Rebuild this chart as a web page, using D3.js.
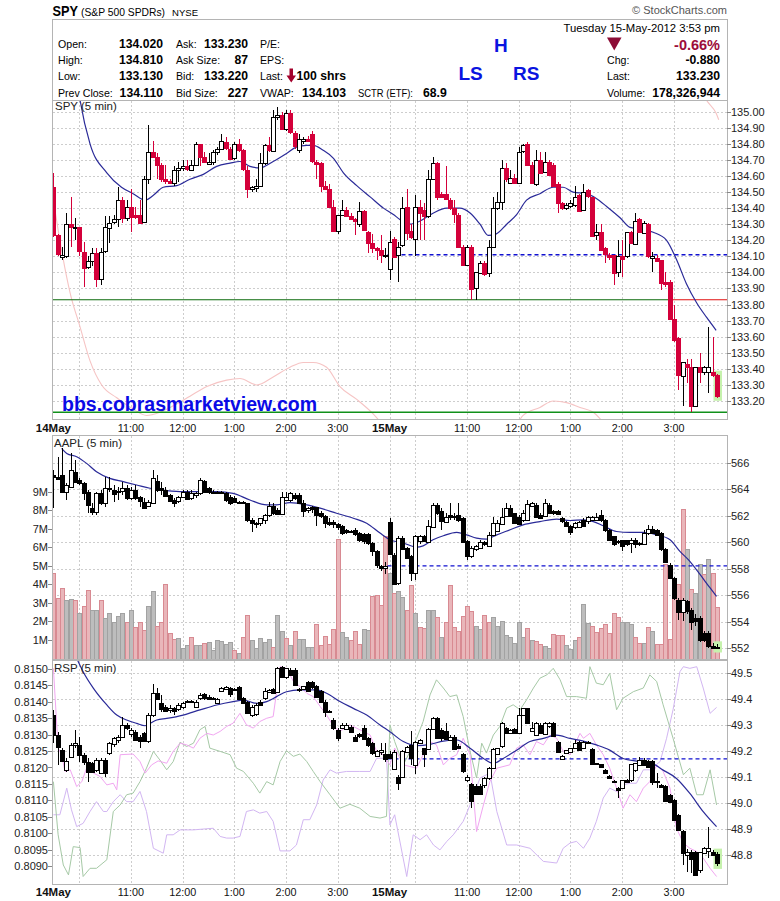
<!DOCTYPE html>
<html>
<head>
<meta charset="utf-8">
<script src="https://cdn.jsdelivr.net/npm/d3@7/dist/d3.min.js"></script>
<style>
html,body{margin:0;padding:0;background:#fff;}
svg{display:block;font-family:"Liberation Sans",Arial,Helvetica,sans-serif;}
</style>
</head>
<body>
<svg id="chart" width="780" height="901"></svg>
<script>
// ================= DATA =================
// time axis (bar index: 5-min bars, 14May 9:30 = 0, 15May 9:30 = 78)
const timeTickIdx  = [0,18,30,42,54,66,78,96,108,120,132,144];
const timeTickText = ["14May","11:00","12:00","1:00","2:00","3:00","15May","11:00","12:00","1:00","2:00","3:00"];
const timeTickBold = [true,false,false,false,false,false,true,false,false,false,false,false];
const gridIdx = [6,18,30,42,54,66,78,84,96,108,120,132,144];
const day2Start = 78;

// header quote
const titleParts = ["SPY","(S&P 500 SPDRs)","NYSE"];
const quoteLabels = [["Open:","High:","Low:","Prev Close:"],["Ask:","Ask Size:","Bid:","Bid Size:"],["P/E:","EPS:","Last:","VWAP:"]];
const quoteValues = [["134.020","134.810","133.130","134.110"],["133.230","87","133.220","227"],["","","100 shrs","134.103"]];
const sctr = ["SCTR (ETF):","68.9"];
const quoteDate = "Tuesday  15-May-2012  3:53 pm";
const quoteChgPct = "-0.66%";
const quoteRight = [["Chg:","-0.880"],["Last:","133.230"],["Volume:","178,326,944"]];
const patternLabels = ["H","LS","RS"];

// ---- SPY [open, high, low, close] ----
const spyBars = [
[134.53,134.62,134.22,134.23],[134.23,134.24,134.10,134.11],[134.10,134.16,134.08,134.11],[134.10,134.37,134.09,134.30],
[134.30,134.47,134.16,134.28],[134.28,134.34,134.20,134.28],[134.28,134.28,134.10,134.13],[134.13,134.19,133.91,134.03],
[134.03,134.10,134.02,134.07],[134.07,134.15,134.04,134.12],[134.12,134.15,133.91,133.96],[133.96,134.15,133.92,134.13],
[134.13,134.35,134.12,134.28],[134.28,134.35,134.18,134.31],[134.31,134.36,134.30,134.33],[134.33,134.53,134.28,134.45],
[134.45,134.47,134.31,134.34],[134.34,134.45,134.32,134.41],[134.41,134.52,134.25,134.35],[134.36,134.41,134.33,134.35],
[134.36,134.45,134.30,134.31],[134.31,134.60,134.31,134.58],[134.58,134.92,134.55,134.75],[134.75,134.82,134.71,134.72],
[134.72,134.74,134.58,134.67],[134.67,134.68,134.56,134.58],[134.58,134.67,134.55,134.57],[134.57,134.58,134.55,134.56],
[134.56,134.66,134.54,134.64],[134.64,134.69,134.56,134.65],[134.65,134.70,134.63,134.66],[134.66,134.70,134.63,134.64],
[134.64,134.70,134.63,134.67],[134.67,134.81,134.67,134.80],[134.80,134.80,134.66,134.72],[134.72,134.75,134.68,134.69],
[134.68,134.74,134.67,134.69],[134.69,134.76,134.67,134.75],[134.75,134.78,134.73,134.77],[134.77,134.86,134.76,134.82],
[134.81,134.84,134.76,134.77],[134.77,134.78,134.70,134.71],[134.71,134.81,134.70,134.80],[134.80,134.83,134.75,134.76],
[134.76,134.77,134.63,134.64],[134.64,134.66,134.46,134.52],[134.52,134.54,134.50,134.53],[134.53,134.58,134.50,134.54],
[134.54,134.74,134.53,134.68],[134.68,134.80,134.67,134.79],[134.79,134.84,134.75,134.76],[134.76,135.01,134.76,134.97],
[134.97,135.03,134.95,134.98],[134.98,135.00,134.89,134.89],[134.89,135.01,134.88,134.99],[134.99,135.01,134.86,134.87],
[134.87,134.88,134.77,134.79],[134.76,134.86,134.74,134.83],[134.82,134.84,134.80,134.83],[134.83,134.85,134.81,134.82],
[134.86,134.88,134.68,134.69],[134.69,134.70,134.58,134.68],[134.68,134.69,134.50,134.54],[134.54,134.57,134.52,134.52],
[134.52,134.55,134.41,134.41],[134.41,134.45,134.25,134.26],[134.26,134.36,134.24,134.36],[134.36,134.45,134.36,134.39],
[134.39,134.41,134.35,134.35],[134.35,134.37,134.33,134.33],[134.33,134.34,134.23,134.32],[134.30,134.44,134.28,134.38],
[134.38,134.39,134.26,134.26],[134.25,134.26,134.12,134.18],[134.18,134.24,134.12,134.15],[134.15,134.16,134.08,134.14],
[134.14,134.23,134.06,134.11],[134.11,134.15,134.09,134.11],
[134.02,134.26,133.95,134.19],[134.21,134.22,134.10,134.10],[134.11,134.19,133.94,134.16],[134.17,134.47,134.16,134.40],
[134.41,134.52,134.20,134.25],[134.26,134.30,134.21,134.22],[134.21,134.48,134.10,134.41],[134.41,134.45,134.20,134.37],
[134.39,134.43,134.20,134.35],[134.35,134.64,134.34,134.58],[134.58,134.72,134.58,134.68],[134.68,134.69,134.45,134.47],
[134.49,134.50,134.46,134.47],[134.49,134.66,134.45,134.46],[134.45,134.46,134.39,134.40],[134.40,134.45,134.31,134.36],
[134.36,134.37,134.16,134.16],[134.16,134.17,134.05,134.05],[134.05,134.17,134.04,134.16],[134.16,134.17,133.83,133.90],
[133.90,134.00,133.83,134.00],[134.00,134.07,133.99,134.06],[134.06,134.07,133.98,133.99],[134.00,134.20,133.97,134.16],
[134.16,134.47,134.16,134.40],[134.40,134.50,134.39,134.44],[134.44,134.70,134.39,134.65],[134.65,134.68,134.56,134.58],
[134.56,134.64,134.56,134.59],[134.59,134.61,134.55,134.56],[134.56,134.78,134.55,134.75],[134.75,134.80,134.74,134.79],
[134.80,134.81,134.67,134.67],[134.67,134.69,134.55,134.56],[134.55,134.76,134.54,134.70],[134.70,134.75,134.61,134.62],
[134.63,134.75,134.62,134.69],[134.69,134.70,134.60,134.61],[134.67,134.68,134.54,134.54],[134.55,134.56,134.37,134.43],
[134.43,134.44,134.39,134.40],[134.40,134.43,134.39,134.42],[134.41,134.45,134.40,134.43],[134.42,134.54,134.41,134.47],
[134.48,134.49,134.38,134.38],[134.39,134.55,134.38,134.50],[134.51,134.52,134.46,134.47],[134.47,134.47,134.23,134.23],
[134.23,134.30,134.20,134.25],[134.25,134.30,134.14,134.14],[134.15,134.16,134.06,134.11],[134.11,134.12,134.08,134.10],
[134.11,134.11,133.92,134.00],[134.00,134.20,133.97,134.10],[134.10,134.20,133.97,134.08],[134.10,134.25,134.09,134.25],
[134.25,134.26,134.18,134.18],[134.18,134.37,134.18,134.32],[134.33,134.34,134.25,134.25],[134.25,134.32,134.24,134.31],
[134.30,134.31,134.09,134.10],[134.09,134.13,134.00,134.10],[134.09,134.11,134.07,134.07],[134.08,134.08,133.89,133.94],
[133.94,134.00,133.91,133.93],[133.94,133.95,133.71,133.71],[133.71,133.80,133.57,133.58],[133.59,133.60,133.27,133.36],
[133.35,133.44,133.17,133.44],[133.43,133.46,133.31,133.41],[133.41,133.46,133.13,133.17],[133.17,133.41,133.17,133.41],
[133.41,133.50,133.31,133.38],[133.38,133.42,133.36,133.41],[133.38,133.66,133.25,133.41],[133.38,133.60,133.35,133.36],
[133.36,133.37,133.22,133.23]
];
const spyMA = [[4.5,135.40],[6.2,135.07],[8.5,134.80],[12.4,134.62],[15.8,134.53],[18.5,134.49],[21.3,134.45],[23.2,134.48],
[25.5,134.53],[28.6,134.54],[31.7,134.58],[34.8,134.61],[37.9,134.66],[41.0,134.68],[43.3,134.69],[45.6,134.66],[47.9,134.65],
[51.0,134.69],[54.1,134.74],[56.4,134.78],[58.8,134.79],[60.3,134.79],[62.6,134.76],[65.0,134.71],[67.3,134.62],[70.4,134.54],
[73.5,134.47],[76.6,134.40],[78.9,134.36],[80.4,134.33],[82.7,134.30],[85.1,134.32],[88.2,134.37],[91.2,134.40],[94.3,134.40],
[96.7,134.37],[99.0,134.30],[100.9,134.23],[102.8,134.24],[105.2,134.30],[107.5,134.36],[109.8,134.45],[112.9,134.49],
[116.0,134.53],[118.3,134.53],[120.6,134.50],[123.7,134.49],[126.0,134.46],[128.4,134.41],[131.5,134.34],[133.8,134.28],
[136.1,134.27],[139.2,134.25],[142.3,134.20],[144.6,134.08],[146.9,133.93],[149.3,133.81],[151.6,133.72],[153.8,133.64]];
const spyPink = [[0,134.45],[1.5,134.20],[3.9,133.87],[6.2,133.66],[8.5,133.45],[11.2,133.30],[14.7,133.22],[18.5,133.15],
[21.6,133.11],[24.7,133.13],[27.8,133.17],[31.7,133.23],[35.6,133.29],[40.2,133.33],[43.3,133.34],[47.2,133.30],[51.0,133.35],
[54.9,133.41],[58.0,133.44],[60.3,133.44],[63.4,133.41],[66.5,133.29],[70.4,133.21],[74.2,133.12],[76.5,133.05],null,
[107.5,133.05],[109.0,133.11],[112.9,133.16],[116.0,133.20],[119.1,133.19],[122.2,133.16],[125.3,133.13],[127.8,133.06],null,
[149.8,135.16],[151.6,135.07],[153.8,134.99],[154.4,134.95]];
const spyTicks = [135.00,134.90,134.80,134.70,134.60,134.50,134.40,134.30,134.20,134.10,134.00,133.90,133.80,133.70,133.60,133.50,133.40,133.30,133.20];
const spyPrevClose = 134.11;
const spyLevelUpper = 133.83, spyLevelLower = 133.13, spyLevelRedFrom = 143.7;
const watermark = "bbs.cobrasmarketview.com";

// ---- AAPL ----
const aaplBars = [
[565.07,565.45,562.57,564.95],[564.95,566.45,564.70,564.82],[565.07,567.08,563.69,563.82],[563.82,564.45,563.19,564.32],
[564.20,566.70,564.07,565.45],[565.32,566.20,564.45,564.57],[564.70,564.82,564.32,564.50],[564.45,564.57,563.19,563.69],
[563.82,563.95,562.19,562.82],[562.57,562.94,562.07,562.24],[562.24,563.82,562.07,563.69],[563.69,563.95,562.82,562.94],
[562.94,564.95,562.69,564.07],[564.07,564.95,563.82,564.05],[563.95,564.32,563.07,563.64],[563.90,564.20,563.19,563.88],
[563.82,564.57,563.57,564.07],[564.07,564.32,563.19,563.32],[563.32,564.20,563.19,563.95],[563.95,564.32,563.19,563.32],
[563.39,563.49,562.64,563.07],[563.07,563.32,562.57,562.64],[562.74,563.19,562.69,563.07],[562.94,565.45,562.89,564.82],
[564.64,565.07,563.82,563.95],[564.07,564.57,563.57,563.95],[563.95,564.20,563.44,563.49],[563.57,563.64,563.07,563.14],
[563.19,563.32,562.69,562.99],[563.07,563.49,562.99,563.39],[563.44,563.95,563.32,563.82],[563.82,563.95,563.19,563.32],
[563.32,563.95,563.19,563.69],[563.57,563.82,563.32,563.69],[563.69,564.82,563.57,564.70],[564.64,564.70,563.69,563.82],
[564.07,564.20,563.64,563.74],[563.82,563.95,563.69,563.80],[563.80,563.90,563.70,563.82],[563.82,563.88,563.69,563.74],
[563.69,563.82,563.07,563.19],[563.44,563.57,562.82,562.99],[563.32,563.49,562.94,562.99],[562.99,563.10,562.90,563.00],
[563.07,563.14,562.94,562.99],[562.94,562.99,561.56,561.69],[561.69,561.81,560.81,561.44],[561.44,561.56,561.06,561.42],
[561.44,561.86,561.24,561.81],[561.69,562.10,561.40,562.07],[562.07,563.07,561.94,562.74],[562.74,562.94,562.07,562.19],
[562.44,562.57,562.07,562.14],[562.14,563.82,562.07,563.44],[563.19,563.82,563.14,563.44],[563.19,563.82,563.07,563.69],
[563.57,563.69,563.19,563.32],[563.57,563.69,562.89,562.94],[562.94,563.19,561.94,562.32],[562.44,562.69,562.19,562.57],
[562.64,562.74,562.19,562.49],[562.64,562.69,561.19,562.07],[562.19,562.32,561.81,561.94],[561.99,562.07,561.06,561.49],
[561.56,561.81,561.19,561.39],[561.56,561.69,561.06,561.39],[561.39,561.44,560.94,561.14],[561.19,561.31,560.56,560.69],
[560.94,560.99,560.64,560.81],[560.81,560.90,560.70,560.88],[560.94,561.06,560.44,560.64],[560.69,560.81,559.99,560.14],
[560.64,560.69,559.90,560.14],[560.64,560.69,559.81,559.94],[559.94,559.99,558.93,559.31],[559.31,559.38,558.06,558.23],
[558.23,558.31,557.81,558.06],[558.06,558.50,557.63,558.22],
[561.56,561.81,559.06,559.18],[559.06,559.18,556.75,556.86],[556.88,560.44,556.75,560.31],[560.31,560.44,559.38,559.48],
[559.56,559.63,558.73,558.81],[558.93,559.06,557.06,557.63],[557.63,560.56,557.18,560.44],[560.06,560.56,559.90,560.44],
[560.44,560.56,559.99,560.06],[559.99,561.69,559.94,561.19],[561.19,562.94,561.14,562.82],[562.82,562.94,562.07,562.19],
[562.32,562.57,560.94,561.56],[561.56,562.19,561.44,561.94],[562.07,562.94,561.69,561.94],[561.94,562.19,561.70,562.00],
[562.07,562.94,561.56,561.69],[561.86,561.94,559.99,560.06],[560.06,560.19,558.68,558.93],[558.93,559.68,558.81,559.56],
[559.43,559.81,559.31,559.68],[559.56,560.19,559.48,559.99],[559.99,560.10,559.70,559.81],[559.73,560.74,559.68,560.56],
[560.56,561.94,560.49,561.44],[560.81,561.69,560.74,561.44],[561.44,562.57,561.39,561.94],[561.94,562.94,561.89,562.57],
[562.57,562.82,561.89,561.94],[562.19,562.24,561.39,561.44],[561.94,562.07,561.39,561.44],[561.69,562.44,561.56,562.19],
[561.69,563.19,561.64,562.87],[562.74,563.07,562.69,562.94],[562.82,562.94,561.89,561.94],[562.07,562.19,561.74,561.81],
[561.94,563.24,561.89,562.94],[562.82,562.94,562.19,562.24],[562.32,562.44,562.07,562.19],[562.39,562.44,562.07,562.14],
[561.81,561.94,561.44,561.56],[561.56,561.64,561.14,561.24],[561.24,561.31,560.56,560.81],[561.14,561.50,561.00,561.44],
[561.19,561.60,561.10,561.56],[561.69,561.81,561.14,561.24],[561.56,562.00,561.40,561.89],[561.69,562.00,561.60,561.89],
[561.69,562.20,561.60,561.89],[562.07,562.44,561.56,561.69],[561.69,561.74,560.81,560.94],[560.94,560.99,560.14,560.19],
[560.44,560.50,559.73,559.81],[560.06,560.20,559.90,560.00],[560.14,560.19,559.31,559.68],[560.14,560.19,559.70,559.81],
[559.88,560.31,559.18,560.14],[560.14,560.31,559.56,559.81],[559.94,560.00,559.70,559.88],[559.88,560.94,559.81,560.69],
[560.69,561.31,560.56,560.99],[560.99,561.19,560.64,560.69],[560.94,561.00,560.50,560.56],[560.69,560.81,559.31,559.48],
[559.48,559.56,558.40,558.48],[558.31,558.40,557.20,557.30],[557.30,557.40,555.67,555.80],[555.67,555.80,554.17,554.80],
[554.80,555.80,554.05,555.67],[555.55,555.67,554.60,554.80],[554.92,555.05,553.40,554.05],[554.30,554.55,553.67,554.05],
[554.30,554.42,552.50,552.67],[553.17,553.30,552.50,552.67],[553.17,553.30,552.00,552.17],[552.17,552.40,551.91,552.04],
[552.04,552.30,551.91,552.10]
];
// volume in millions
const aaplVol = [4.59,3.24,3.79,3.16,3.19,3.16,2.47,2.83,3.70,2.62,2.62,3.16,2.17,2.44,1.99,2.29,2.47,1.99,2.62,1.68,
1.99,1.54,2.83,3.64,1.75,1.99,4.02,1.36,1.03,1.09,0.58,0.71,1.14,0.71,0.71,0.85,0.89,0.46,1.00,0.96,
0.78,0.90,0.46,0.31,1.14,2.35,1.00,0.55,1.09,0.91,1.03,0.60,2.35,1.50,1.09,0.73,1.50,1.03,1.03,0.64,
0.60,1.86,0.71,1.21,0.78,1.57,6.43,1.45,1.14,1.00,1.50,0.78,1.57,1.54,3.37,3.43,2.89,6.61,
4.59,3.51,3.66,3.34,2.62,3.96,2.47,1.72,1.63,2.62,2.62,2.22,1.14,1.99,3.96,1.68,1.50,2.29,2.83,2.58,
1.75,1.57,2.35,1.99,2.26,1.75,2.04,1.27,1.18,0.85,1.95,1.18,1.63,1.00,0.96,0.78,0.67,0.55,1.32,1.27,
1.27,0.73,0.49,1.00,1.18,2.94,1.93,1.75,1.45,1.63,1.86,1.39,2.47,2.26,1.99,1.99,1.86,1.18,0.85,0.85,
1.68,1.50,0.78,0.78,5.10,1.03,4.23,4.00,8.05,5.89,3.73,3.51,5.08,4.56,5.35,4.59,2.76];
// 1 = up volume (pink), 0 = down volume (grey)
const aaplVolUp = [1,1,1,0,0,1,0,1,1,0,0,1,0,0,0,0,0,1,0,1,1,1,0,0,1,1,1,1,1,0,0,0,1,0,0,1,0,0,0,0,
0,0,1,0,1,1,0,0,0,0,0,1,0,0,1,0,1,0,0,0,0,1,1,1,1,1,1,0,0,1,1,1,0,0,1,1,1,1,
0,1,0,0,1,1,0,1,1,0,0,1,0,1,1,1,1,1,1,1,0,0,1,1,0,0,0,0,0,0,0,0,1,0,1,1,0,0,1,1,
1,0,0,0,1,0,0,1,1,1,1,1,1,1,0,0,0,1,1,0,1,0,1,1,1,1,1,1,1,0,1,0,0,1,0,1,1];
const aaplMA = [[1.9,567.08],[3.1,566.70],[5.4,566.45],[7.7,565.95],[10.0,565.32],[13.1,564.82],[16.2,564.57],[19.3,564.32],
[22.4,564.07],[26.3,563.90],[30.1,563.82],[34.0,563.82],[37.9,563.82],[41.7,563.69],[45.6,563.19],[49.5,562.82],[51.8,562.82],
[54.9,562.99],[58.8,562.82],[61.9,562.57],[65.7,562.19],[69.6,561.81],[72.7,561.44],[75.8,560.69],[78.1,560.19],[81.2,559.94],
[84.3,559.63],[85.8,559.73],[88.1,560.19],[90.5,560.49],[93.6,560.74],[95.9,560.56],[98.2,560.31],[100.5,560.24],[102.9,560.56],
[106.0,560.94],[109.0,561.31],[112.9,561.56],[116.8,561.74],[119.9,561.64],[123.0,561.69],[125.3,561.56],[127.6,561.24],
[130.7,560.81],[133.8,560.74],[136.9,560.74],[140.0,560.56],[143.1,560.19],[145.4,559.31],[147.7,558.56],[150.1,557.55],
[152.4,556.55],[153.9,555.92]];
const aaplTicks = [566,564,562,560,558,556,554,552];
const volTicks = [1,2,3,4,5,6,7,8,9];
const aaplPrevClose = 558.22;

// ---- RSP ----
const rspBars = [
[49.339,49.359,49.230,49.262],[49.262,49.275,49.147,49.217],[49.204,49.211,49.159,49.162],[49.127,49.172,49.121,49.162],
[49.179,49.230,49.172,49.224],[49.221,49.281,49.211,49.230],[49.224,49.256,49.159,49.185],[49.185,49.192,49.147,49.159],
[49.159,49.172,49.082,49.121],[49.153,49.159,49.114,49.118],[49.127,49.172,49.121,49.166],[49.114,49.172,49.111,49.166],
[49.166,49.172,49.102,49.114],[49.192,49.237,49.185,49.230],[49.224,49.256,49.217,49.249],[49.243,49.262,49.230,49.256],
[49.256,49.333,49.249,49.301],[49.301,49.307,49.281,49.290],[49.265,49.288,49.256,49.281],[49.275,49.281,49.240,49.243],
[49.256,49.262,49.211,49.240],[49.269,49.275,49.237,49.240],[49.240,49.346,49.230,49.339],[49.339,49.457,49.333,49.423],
[49.423,49.442,49.397,49.401],[49.384,49.416,49.352,49.359],[49.371,49.378,49.349,49.354],[49.359,49.378,49.346,49.368],
[49.365,49.371,49.339,49.354],[49.362,49.384,49.354,49.378],[49.368,49.391,49.362,49.384],[49.391,49.397,49.384,49.392],
[49.392,49.397,49.385,49.391],[49.371,49.397,49.365,49.391],[49.404,49.423,49.397,49.416],[49.419,49.423,49.397,49.404],
[49.410,49.416,49.400,49.404],[49.406,49.410,49.400,49.405],[49.384,49.404,49.380,49.401],[49.432,49.449,49.429,49.445],
[49.440,49.452,49.436,49.449],[49.442,49.449,49.410,49.419],[49.440,49.445,49.436,49.441],[49.449,49.452,49.404,49.404],
[49.404,49.410,49.380,49.384],[49.391,49.393,49.342,49.350],[49.339,49.378,49.333,49.371],[49.342,49.384,49.336,49.378],
[49.391,49.397,49.375,49.378],[49.404,49.442,49.397,49.432],[49.429,49.440,49.425,49.436],[49.440,49.445,49.420,49.423],
[49.429,49.526,49.427,49.522],[49.526,49.530,49.481,49.487],[49.483,49.519,49.478,49.519],[49.513,49.519,49.490,49.493],
[49.513,49.519,49.455,49.457],[49.436,49.445,49.429,49.438],[49.442,49.452,49.438,49.452],[49.466,49.470,49.429,49.432],
[49.466,49.470,49.440,49.445],[49.452,49.455,49.408,49.410],[49.432,49.436,49.388,49.391],[49.391,49.397,49.333,49.352],
[49.354,49.360,49.349,49.355],[49.320,49.326,49.282,49.288],[49.281,49.288,49.240,49.249],[49.290,49.307,49.286,49.301],
[49.286,49.307,49.282,49.301],[49.294,49.301,49.270,49.275],[49.256,49.262,49.237,49.240],[49.265,49.270,49.252,49.256],
[49.290,49.301,49.243,49.249],[49.252,49.256,49.217,49.224],[49.230,49.237,49.185,49.192],[49.183,49.204,49.180,49.201],
[49.195,49.230,49.185,49.204],[49.188,49.230,49.159,49.170],
[49.188,49.201,49.169,49.172],[49.134,49.204,49.127,49.198],[49.102,49.108,49.050,49.080],[49.102,49.204,49.095,49.201],
[49.198,49.221,49.192,49.217],[49.224,49.278,49.147,49.175],[49.144,49.240,49.111,49.234],[49.230,49.246,49.227,49.243],
[49.211,49.214,49.140,49.188],[49.208,49.291,49.204,49.285],[49.285,49.333,49.281,49.326],[49.326,49.333,49.246,49.249],
[49.281,49.288,49.240,49.249],[49.278,49.307,49.246,49.249],[49.246,49.262,49.243,49.256],[49.256,49.262,49.204,49.208],
[49.221,49.227,49.211,49.214],[49.188,49.192,49.114,49.121],[49.089,49.108,49.082,49.102],[49.072,49.076,48.980,49.005],
[49.067,49.072,49.035,49.038],[49.067,49.072,49.035,49.038],[49.067,49.100,49.060,49.095],[49.095,49.140,49.090,49.134],
[49.134,49.211,49.131,49.208],[49.188,49.214,49.185,49.211],[49.217,49.314,49.211,49.307],[49.288,49.294,49.265,49.269],
[49.269,49.285,49.265,49.281],[49.285,49.290,49.265,49.269],[49.269,49.365,49.265,49.339],[49.339,49.368,49.336,49.365],
[49.365,49.368,49.304,49.307],[49.278,49.314,49.275,49.288],[49.262,49.314,49.258,49.307],[49.301,49.307,49.272,49.272],
[49.265,49.314,49.262,49.307],[49.294,49.314,49.290,49.307],[49.307,49.314,49.253,49.256],[49.237,49.240,49.195,49.198],
[49.172,49.185,49.169,49.183],[49.192,49.206,49.188,49.204],[49.195,49.214,49.192,49.211],[49.211,49.243,49.208,49.230],
[49.237,49.240,49.208,49.208],[49.211,49.240,49.208,49.234],[49.234,49.240,49.227,49.235],[49.208,49.214,49.148,49.150],
[49.153,49.156,49.146,49.149],[49.149,49.152,49.135,49.136],[49.127,49.130,49.112,49.114],[49.105,49.108,49.098,49.098],
[49.085,49.090,49.078,49.082],[49.059,49.063,49.018,49.050],[49.059,49.090,49.055,49.088],[49.089,49.092,49.078,49.080],
[49.089,49.150,49.080,49.150],[49.127,49.156,49.120,49.153],[49.147,49.179,49.143,49.166],[49.166,49.172,49.145,49.147],
[49.162,49.166,49.138,49.140],[49.162,49.166,49.070,49.082],[49.082,49.114,49.057,49.085],[49.070,49.075,49.060,49.063],
[49.067,49.070,49.005,49.008],[49.031,49.034,49.003,49.005],[49.012,49.015,48.935,48.935],[48.954,48.958,48.895,48.896],
[48.892,48.896,48.761,48.806],[48.802,48.823,48.736,48.813],[48.813,48.820,48.729,48.787],[48.810,48.815,48.720,48.720],
[48.742,48.813,48.729,48.810],[48.810,48.830,48.805,48.828],[48.813,48.909,48.787,48.826],[48.813,48.820,48.798,48.800],
[48.802,48.813,48.758,48.768]
];
const rspMA = [[5.4,49.558],[6.9,49.506],[9.3,49.442],[12.4,49.378],[14.7,49.339],[17.0,49.320],[19.3,49.307],[21.3,49.298],
[22.4,49.307],[24.0,49.320],[26.3,49.326],[30.1,49.339],[34.0,49.359],[37.9,49.378],[41.7,49.391],[44.1,49.397],[47.2,49.384],
[49.5,49.391],[51.8,49.410],[54.1,49.429],[57.2,49.436],[61.1,49.436],[63.4,49.423],[66.5,49.391],[69.6,49.365],[72.7,49.339],
[75.8,49.301],[78.1,49.275],[81.2,49.237],[84.3,49.221],[87.4,49.226],[90.5,49.239],[93.6,49.243],[96.7,49.211],[99.8,49.172],
[102.1,49.153],[104.4,49.172],[107.5,49.204],[110.6,49.237],[113.7,49.249],[116.8,49.262],[119.9,49.249],[123.0,49.239],
[126.0,49.224],[129.1,49.204],[132.2,49.172],[135.3,49.162],[138.4,49.157],[141.5,49.127],[144.6,49.095],[147.7,49.037],
[150.8,48.967],[153.9,48.909]];
// overlay ratio lines (left axis)
const rspPink = [[0,0.81502],[1.1,0.81259],[1.9,0.81239],[2.7,0.81188],[3.9,0.81193],[5.4,0.81142],[6.6,0.81157],[7.7,0.81198],
[9.3,0.81183],[10.8,0.81173],[12.4,0.81147],[13.9,0.81152],[14.7,0.81132],[15.5,0.81239],[18.5,0.81241],[20.1,0.81218],
[21.3,0.81183],[22.8,0.81208],[24.3,0.81220],[26.3,0.81213],[27.8,0.81249],[29.4,0.81274],[30.9,0.81269],[32.5,0.81259],
[34.0,0.81289],[35.6,0.81304],[37.1,0.81299],[38.7,0.81310],[40.2,0.81325],[41.7,0.81335],[43.3,0.81365],[44.8,0.81330],
[46.4,0.81320],[47.9,0.81340],[49.5,0.81350],[51.0,0.81355],[52.6,0.81507],[54.1,0.81502],[55.7,0.81462],[57.2,0.81447],
[58.8,0.81426],[60.3,0.81416],[61.9,0.81386],[63.4,0.81360],[65.0,0.81325],[66.5,0.81310],[68.8,0.81330],[71.1,0.81315],
[73.5,0.81299],[75.0,0.81249],[76.5,0.81239],[78.1,0.81208],[79.2,0.81259],[81.2,0.81208],[84.3,0.81198],[85.8,0.81239],
[87.4,0.81279],[88.9,0.81269],[90.5,0.81208],[92.0,0.81228],[93.6,0.81239],[95.1,0.81289],[96.7,0.81239],[98.2,0.81005],
[99.8,0.81086],[101.3,0.81157],[102.9,0.81198],[105.9,0.81208],[107.5,0.81259],[109.0,0.81269],[110.6,0.81239],[112.1,0.81279],
[113.7,0.81269],[115.2,0.81299],[116.8,0.81289],[118.3,0.81249],[119.9,0.81239],[122.2,0.81304],[123.0,0.81289],[124.5,0.81304],
[126.0,0.81269],[127.6,0.81239],[129.1,0.81198],[130.7,0.81137],[132.2,0.81076],[133.8,0.81117],[135.3,0.81096],[136.9,0.81137],
[138.4,0.81157],[140.0,0.81208],[141.5,0.81188],[143.1,0.81137],[144.6,0.81015],[146.2,0.80970],[147.7,0.80954],[149.3,0.80944],
[150.8,0.80924],[152.4,0.80893],[153.9,0.80868]];
const rspGreen = [[0,0.81157],[1.1,0.80995],[2.3,0.80903],[3.5,0.80873],[4.6,0.80959],[6.2,0.80956],[6.9,0.80868],[8.5,0.80893],
[10.0,0.80893],[12.4,0.80919],[13.9,0.81066],[15.5,0.81086],[17.0,0.81117],[18.5,0.81122],[20.1,0.81157],[21.6,0.81198],
[23.2,0.81249],[24.7,0.81223],[26.3,0.81193],[27.8,0.81218],[29.4,0.81277],[30.9,0.81264],[32.5,0.81274],[34.0,0.81315],
[35.2,0.81325],[36.3,0.81259],[38.7,0.81249],[41.0,0.81239],[42.5,0.81198],[44.1,0.81188],[46.4,0.81152],[47.9,0.81122],
[49.5,0.81157],[51.0,0.81147],[52.6,0.81218],[54.1,0.81251],[55.7,0.81234],[57.2,0.81241],[58.8,0.81218],[60.3,0.81188],
[61.9,0.81157],[64.2,0.81117],[66.5,0.81076],[68.8,0.81088],[71.1,0.81076],[73.5,0.81051],[75.8,0.81046],[77.3,0.81051],
[78.1,0.81330],[79.2,0.81279],[81.2,0.81208],[84.3,0.81289],[85.8,0.81340],[87.4,0.81421],[88.9,0.81467],[90.5,0.81442],
[92.0,0.81416],[93.6,0.81421],[95.1,0.81355],[96.7,0.81249],[98.2,0.81168],[99.4,0.81274],[100.5,0.81244],[102.1,0.81299],
[103.6,0.81325],[105.2,0.81381],[106.7,0.81391],[108.3,0.81376],[109.8,0.81406],[111.4,0.81442],[112.9,0.81472],[114.5,0.81482],
[116.0,0.81502],[117.6,0.81467],[119.1,0.81416],[121.4,0.81416],[123.7,0.81411],[124.5,0.81507],[126.0,0.81457],[127.6,0.81452],
[129.1,0.81487],[130.7,0.81376],[132.2,0.81411],[134.6,0.81431],[136.9,0.81442],[138.4,0.81482],[140.0,0.81462],[141.5,0.81391],
[143.8,0.81289],[146.2,0.81178],[147.7,0.81198],[149.3,0.81117],[150.8,0.81117],[152.4,0.81193],[153.9,0.81086]];
const rspPurple = [[0,0.81056],[1.5,0.81056],[3.1,0.81137],[4.2,0.81071],[5.4,0.81020],[6.9,0.81030],[8.5,0.81066],[10.0,0.81096],
[11.6,0.81066],[12.4,0.81066],[13.9,0.81096],[15.5,0.81117],[17.0,0.81096],[18.5,0.81096],[20.1,0.81127],[21.6,0.81066],
[23.2,0.80954],[25.5,0.80939],[26.3,0.80995],[27.8,0.80995],[29.4,0.81010],[32.5,0.81010],[37.1,0.81015],[38.7,0.80990],
[40.2,0.80985],[41.7,0.80985],[43.3,0.80990],[44.8,0.81066],[46.4,0.81071],[47.9,0.81061],[49.5,0.81066],[51.0,0.81036],
[52.6,0.80946],[54.9,0.80946],[56.4,0.80964],[58.0,0.81041],[59.5,0.81041],[61.1,0.81086],[62.6,0.81162],[64.2,0.81193],
[65.7,0.81183],[68.0,0.81188],[71.1,0.81188],[73.5,0.81188],[75.0,0.81228],[77.3,0.81228],[78.1,0.81025],[79.2,0.81056],
[82.0,0.80868],[83.5,0.80995],[85.1,0.80980],[86.6,0.80995],[88.2,0.80964],[89.7,0.80949],[91.3,0.80975],[92.8,0.80995],
[95.1,0.81036],[96.7,0.81086],[99.0,0.81168],[101.3,0.81183],[102.9,0.81066],[105.2,0.80964],[107.5,0.80964],[110.6,0.80954],
[113.7,0.80914],[116.8,0.80909],[118.3,0.80954],[119.9,0.80970],[121.4,0.80975],[123.0,0.80954],[124.5,0.80985],[126.0,0.81036],
[127.6,0.81107],[129.1,0.81137],[130.7,0.81127],[132.2,0.81147],[133.8,0.81152],[135.3,0.81152],[136.9,0.81193],[138.4,0.81193],
[140.8,0.81218],[142.3,0.81289],[143.8,0.81376],[145.4,0.81492],[146.2,0.81507],[147.7,0.81502],[149.3,0.81507],[150.8,0.81442],
[152.4,0.81365],[153.9,0.81383]];
const rspTicksR = [49.5,49.4,49.3,49.2,49.1,49.0,48.9,48.8];
const rspTicksL = [0.8150,0.8145,0.8140,0.8135,0.8130,0.8125,0.8120,0.8115,0.8110,0.8105,0.8100,0.8095,0.8090];
const rspPrevClose = 49.17;

// ================= DRAWING =================
const svg = d3.select("#chart");
const L = 52, R = 727;
const lastIdx = spyBars.length - 1;
const x = d3.scaleLinear().domain([0, 154]).range([53.4, 717]);
const P = { spy:{top:100,bottom:419}, aapl:{top:435,bottom:659}, rsp:{top:660,bottom:884} };
const ySpy   = d3.scaleLinear().domain([133.20,135.00]).range([401,111.7]);
const yAapl  = d3.scaleLinear().domain([552,566]).range([648.3,462.7]);
const yVol   = d3.scaleLinear().domain([0,9]).range([658.5,491.7]);
const yRsp   = d3.scaleLinear().domain([48.8,49.5]).range([855,673.3]);
const yRatio = d3.scaleLinear().domain([0.8090,0.8150]).range([866,669]);

const defs = svg.append("defs");
Object.entries(P).forEach(([k,p])=>{
  defs.append("clipPath").attr("id","clip-"+k).append("rect")
    .attr("x",L+1).attr("y",p.top+1).attr("width",R-L-1).attr("height",p.bottom-p.top-1);
});

function txt(g, s, xx, yy, o={}) {
  const t = g.append("text").attr("x",xx).attr("y",yy).text(s)
    .attr("font-size",o.size||11).attr("font-weight",o.weight||"normal")
    .attr("text-anchor",o.anchor||"start").attr("fill",o.fill||"#000");
  if (o.len) t.attr("textLength",o.len).attr("lengthAdjust","spacingAndGlyphs");
  return t;
}

// ---------- header ----------
const hg = svg.append("g");
hg.append("rect").attr("x",L+0.5).attr("y",19.5).attr("width",R-L).attr("height",81).attr("fill","#fff").attr("stroke","#b4b4b4");
txt(hg,titleParts[0],52.5,15.5,{size:15,weight:"bold",len:25.5});
txt(hg,titleParts[1],81,15.5,{size:11,len:84});
txt(hg,titleParts[2],172,15.5,{size:9.5,len:26});
txt(hg,"\u00A9 StockCharts.com",727,14,{size:11,anchor:"end",fill:"#555"});
const rowY = [47.6,63.9,80.2,96.5];
const labX = [58,176,260], valX = [163,248,346];
quoteLabels.forEach((col,c)=>col.forEach((s,r)=>txt(hg,s,labX[c],rowY[r],{size:10.6})));
quoteValues.forEach((col,c)=>col.forEach((s,r)=>{ if(s) txt(hg,s,valX[c],rowY[r],{size:12.2,weight:"bold",anchor:"end"}); }));
// down arrow next to "Last:"
hg.append("path").attr("d","M289.5,68.5 h3.5 v7 h3 l-4.75,7 l-4.75,-7 h3 z").attr("fill","#a3002b");
txt(hg,sctr[0],358,rowY[3],{size:10.6,len:55});
txt(hg,sctr[1],423,rowY[3],{size:12.2,weight:"bold"});
txt(hg,quoteDate,720,32,{size:11.3,anchor:"end"});
hg.append("path").attr("d","M607,37.5 L621.5,37.5 L614.25,50.5 Z").attr("fill","#8c0c35");
txt(hg,quoteChgPct,720,49.5,{size:14.5,weight:"bold",anchor:"end",fill:"#9c0c3a"});
quoteRight.forEach((r,k)=>{
  txt(hg,r[0],607,rowY[k+1],{size:10.6});
  txt(hg,r[1],720,rowY[k+1],{size:12.2,weight:"bold",anchor:"end"});
});
txt(hg,patternLabels[0],494,52,{size:19,weight:"bold",fill:"#0a14e0"});
txt(hg,patternLabels[1],458.5,80,{size:19,weight:"bold",fill:"#0a14e0"});
txt(hg,patternLabels[2],513,80,{size:19,weight:"bold",fill:"#0a14e0"});

// ---------- panel frames ----------
function frame(p, yScale, ticks) {
  const g = svg.append("g").attr("shape-rendering","crispEdges");
  g.append("rect").attr("x",L+0.5).attr("y",p.top+0.5).attr("width",R-L).attr("height",p.bottom-p.top)
    .attr("fill","#fff").attr("stroke","#b4b4b4");
  g.selectAll(null).data(gridIdx).join("line")
    .attr("x1",d=>Math.round(x(d))+0.5).attr("x2",d=>Math.round(x(d))+0.5)
    .attr("y1",p.top+1).attr("y2",p.bottom)
    .attr("stroke","#cdcdcd").attr("stroke-dasharray","2,2");
  g.selectAll(null).data(ticks).join("line")
    .attr("x1",L+1).attr("x2",R)
    .attr("y1",d=>Math.round(yScale(d))+0.5).attr("y2",d=>Math.round(yScale(d))+0.5)
    .attr("stroke","#cdcdcd").attr("stroke-dasharray","2,2");
  return g;
}
function rightAxis(yScale, ticks, fmt) {
  const g = svg.append("g");
  g.selectAll(null).data(ticks).join("line").attr("shape-rendering","crispEdges")
    .attr("x1",R).attr("x2",R+4).attr("y1",d=>Math.round(yScale(d))+0.5).attr("y2",d=>Math.round(yScale(d))+0.5)
    .attr("stroke","#888");
  g.selectAll(null).data(ticks).join("text")
    .attr("x",R+4).attr("y",d=>yScale(d)+4).attr("font-size",11).attr("fill","#222").text(fmt);
}
function leftAxis(yScale, ticks, fmt) {
  const g = svg.append("g");
  g.selectAll(null).data(ticks).join("line").attr("shape-rendering","crispEdges")
    .attr("x1",L-4).attr("x2",L).attr("y1",d=>Math.round(yScale(d))+0.5).attr("y2",d=>Math.round(yScale(d))+0.5)
    .attr("stroke","#888");
  g.selectAll(null).data(ticks).join("text")
    .attr("x",L-4).attr("y",d=>yScale(d)+4).attr("font-size",11).attr("fill","#222")
    .attr("text-anchor","end").text(fmt);
}
function timeAxis(yBase) {
  const g = svg.append("g");
  g.selectAll(null).data(timeTickIdx).join("text")
    .attr("x",d=>x(d)).attr("y",yBase).attr("text-anchor","middle")
    .attr("font-size",(d,i)=>timeTickBold[i]?11.5:10.8)
    .attr("font-weight",(d,i)=>timeTickBold[i]?"bold":"normal")
    .attr("fill","#111")
    .text((d,i)=>timeTickText[i]);
}
function candles(g, bars, yScale, downFill, downStroke) {
  const cg = g.append("g").attr("shape-rendering","crispEdges");
  bars.forEach((b,i)=>{
    const [o,h,l,c] = b;
    const cx = Math.round(x(i));
    const down = c < o;
    const col = down ? downStroke : "#000";
    cg.append("line").attr("x1",cx+0.5).attr("x2",cx+0.5)
      .attr("y1",yScale(Math.max(h,o,c))).attr("y2",yScale(Math.min(l,o,c))).attr("stroke",col);
    const yt = yScale(Math.max(o,c)), yb = yScale(Math.min(o,c));
    cg.append("rect").attr("x",cx-1.5).attr("y",Math.round(yt)+0.5).attr("width",4)
      .attr("height",Math.max(Math.round(yb-yt),1))
      .attr("fill",down?downFill:"#fff").attr("stroke",col);
  });
}
function highlight(g, bar, yScale, i) {
  const [o,h,l,c] = bar;
  g.append("rect").attr("x",x(i)-3.5).attr("width",8.5)
    .attr("y",yScale(h)-3).attr("height",yScale(l)-yScale(h)+6)
    .attr("fill","#c6f2ad");
}
function lineOf(yScale, curve) {
  return d3.line().defined(d=>d!==null).x(d=>x(d[0])).y(d=>yScale(d[1])).curve(curve||d3.curveLinear);
}
function prevCloseLine(g, yScale, v) {
  g.append("line").attr("x1",x(day2Start)-2).attr("x2",R)
    .attr("y1",yScale(v)).attr("y2",yScale(v))
    .attr("stroke","#1010d0").attr("stroke-width",1.3).attr("stroke-dasharray","4,3");
}

// ---------- SPY panel ----------
frame(P.spy, ySpy, spyTicks);
rightAxis(ySpy, spyTicks, d=>d.toFixed(2));
const gs = svg.append("g").attr("clip-path","url(#clip-spy)");
gs.append("path").datum(spyPink).attr("d",lineOf(ySpy,d3.curveMonotoneX)).attr("fill","none").attr("stroke","#f6c4c4").attr("stroke-width",1.1);
gs.append("line").attr("x1",L).attr("x2",x(spyLevelRedFrom)).attr("y1",ySpy(spyLevelUpper)).attr("y2",ySpy(spyLevelUpper)).attr("stroke","#0b6a0b").attr("stroke-width",1.2);
gs.append("line").attr("x1",x(spyLevelRedFrom)).attr("x2",R).attr("y1",ySpy(spyLevelUpper)).attr("y2",ySpy(spyLevelUpper)).attr("stroke","#e01010").attr("stroke-width",1.2);
gs.append("line").attr("x1",L).attr("x2",R).attr("y1",ySpy(spyLevelLower)).attr("y2",ySpy(spyLevelLower)).attr("stroke","#10901a").attr("stroke-width",1.3);
prevCloseLine(gs, ySpy, spyPrevClose);
highlight(gs, spyBars[lastIdx], ySpy, lastIdx);
gs.append("path").datum(spyMA).attr("d",lineOf(ySpy,d3.curveMonotoneX)).attr("fill","none").attr("stroke","#2a2a98").attr("stroke-width",1.2);
candles(gs, spyBars, ySpy, "#d4003a", "#d4003a");
txt(svg, watermark, 62, 411, {size:19.5, weight:"bold", fill:"#0a0ae6"});
txt(svg, "SPY (5 min)", 55, 110, {size:11.5, fill:"#222"});

timeAxis(432);

// ---------- AAPL panel ----------
frame(P.aapl, yAapl, aaplTicks);
rightAxis(yAapl, aaplTicks, d=>String(d));
leftAxis(yVol, volTicks, d=>d+"M");
const ga = svg.append("g").attr("clip-path","url(#clip-aapl)");
ga.append("g").attr("shape-rendering","crispEdges").selectAll(null).data(aaplVol).join("rect")
  .attr("x",(d,i)=>Math.round(x(i)-2)+0.5).attr("width",4)
  .attr("y",d=>Math.round(yVol(d))+0.5).attr("height",d=>Math.max(yVol(0)-Math.round(yVol(d)),0)+1)
  .attr("fill",(d,i)=>aaplVolUp[i]?"#e9b6ba":"#bdbdbd")
  .attr("stroke",(d,i)=>aaplVolUp[i]?"#d88a92":"#a2a2a2");
prevCloseLine(ga, yAapl, aaplPrevClose);
highlight(ga, aaplBars[lastIdx], yAapl, lastIdx);
ga.append("path").datum(aaplMA).attr("d",lineOf(yAapl,d3.curveMonotoneX)).attr("fill","none").attr("stroke","#2a2a98").attr("stroke-width",1.2);
candles(ga, aaplBars, yAapl, "#000", "#000");
txt(svg, "AAPL (5 min)", 54, 446.5, {size:11.5, fill:"#222"});

// ---------- RSP panel ----------
frame(P.rsp, yRsp, rspTicksR);
rightAxis(yRsp, rspTicksR, d=>d.toFixed(1));
leftAxis(yRatio, rspTicksL, d=>d.toFixed(4));
const gr = svg.append("g").attr("clip-path","url(#clip-rsp)");
gr.append("path").datum(rspPurple).attr("d",lineOf(yRatio)).attr("fill","none").attr("stroke","#d2b6f2").attr("stroke-width",1);
gr.append("path").datum(rspGreen).attr("d",lineOf(yRatio)).attr("fill","none").attr("stroke","#a6c9a6").attr("stroke-width",1);
gr.append("path").datum(rspPink).attr("d",lineOf(yRatio)).attr("fill","none").attr("stroke","#f1a6f1").attr("stroke-width",1);
prevCloseLine(gr, yRsp, rspPrevClose);
highlight(gr, rspBars[lastIdx], yRsp, lastIdx);
gr.append("path").datum(rspMA).attr("d",lineOf(yRsp,d3.curveMonotoneX)).attr("fill","none").attr("stroke","#2a2a98").attr("stroke-width",1.2);
candles(gr, rspBars, yRsp, "#000", "#000");
txt(svg, "RSP (5 min)", 54, 671.5, {size:11.5, fill:"#222"});

timeAxis(896);
</script>
</body>
</html>
